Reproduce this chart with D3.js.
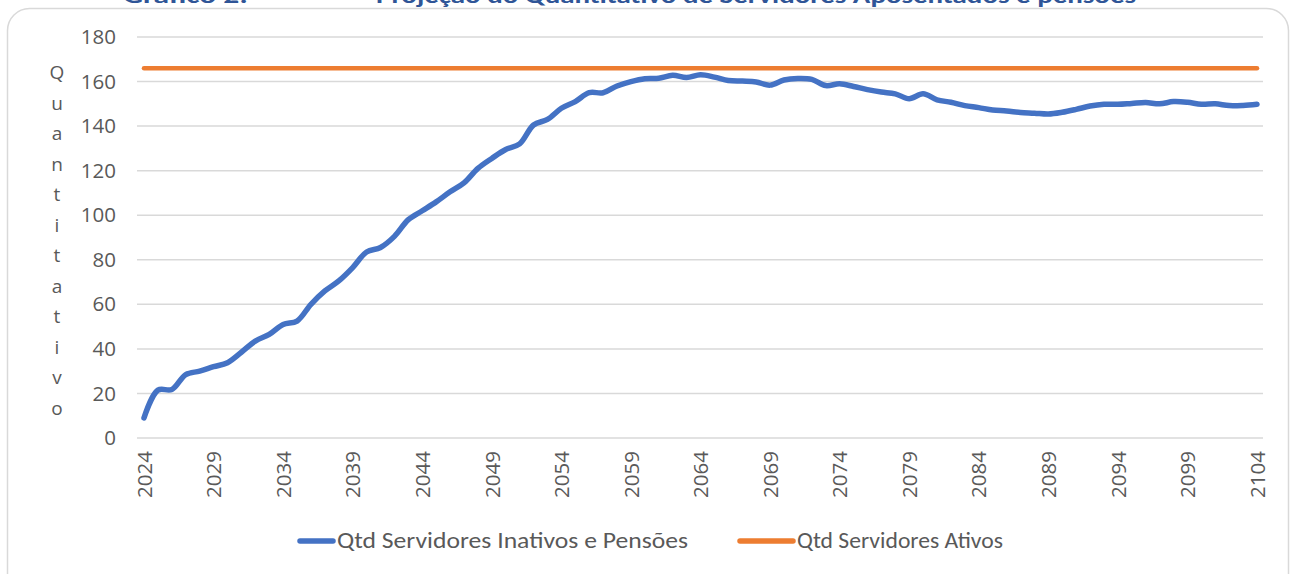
<!DOCTYPE html>
<html>
<head>
<meta charset="utf-8">
<script src="https://cdn.jsdelivr.net/npm/d3@7"></script>
<style>
  body { margin: 0; background: #fff; }
  svg { display: block; }
</style>
</head>
<body>
<div id="chart"></div>
<script>
// dados
var anos = d3.range(2024, 2105);
var inativos = [9, 21.5, 21.8, 28.5, 30, 32, 33.8, 38.5, 43.5, 46.5,
    51, 52.5, 60, 66, 70.5, 76.5, 83.5, 85.5, 90.5, 98,
    102, 106, 110.5, 114.5, 121, 125.5, 129.5, 132, 140.5, 143,
    148, 151, 155, 155, 158, 160, 161.3, 161.5, 162.8, 161.8,
    163, 162, 160.5, 160.2, 159.8, 158.4, 160.7, 161.4, 161, 158.2,
    159, 157.8, 156.4, 155.3, 154.5, 152.3, 154.5, 151.8, 150.7, 149.2,
    148.3, 147.2, 146.8, 146.1, 145.8, 145.4, 146.2, 147.5, 149, 149.8,
    149.8, 150.2, 150.6, 150, 151, 150.7, 149.8, 150, 149.2, 149.3,
    149.8];
var ativos = anos.map(function(){ return 166; });
var yTicks = [0, 20, 40, 60, 80, 100, 120, 140, 160, 180];
var xTicks = d3.range(2024, 2105, 5);
var series = [
    {name: "Qtd Servidores Inativos e Pensões", values: inativos, color: "#4472C4"},
    {name: "Qtd Servidores Ativos", values: ativos, color: "#ED7D31"}
];

var W = 1290, H = 574;
var fontTick = "'Open Sans', 'Noto Sans', sans-serif";
var fontLeg = "Carlito, Calibri, 'Open Sans', sans-serif";

var svg = d3.select("#chart").append("svg")
    .attr("width", W).attr("height", H);

// moldura
svg.append("rect")
    .attr("x", 7.5).attr("y", 8.5)
    .attr("width", 1281).attr("height", 590)
    .attr("rx", 22).attr("ry", 22)
    .attr("fill", "#fff")
    .attr("stroke", "#d9d9d9")
    .attr("stroke-width", 1.5);

// título (cortado no topo, como na imagem)
svg.append("text")
    .attr("x", 123).attr("y", 3)
    .attr("font-family", fontLeg)
    .attr("font-weight", "bold")
    .attr("font-size", "23px")
    .attr("fill", "#2F5597")
    .attr("textLength", 125)
    .attr("lengthAdjust", "spacingAndGlyphs")
    .text("Gráfico 2:");
svg.append("text")
    .attr("x", 376).attr("y", 3)
    .attr("font-family", fontLeg)
    .attr("font-weight", "bold")
    .attr("font-size", "23px")
    .attr("fill", "#2F5597")
    .attr("textLength", 760)
    .attr("lengthAdjust", "spacingAndGlyphs")
    .text("Projeção do Quantitativo de Servidores Aposentados e pensões");

var x = d3.scaleLinear().domain([2024, 2104]).range([144, 1257]);
var y = d3.scaleLinear().domain([0, 180]).range([438, 37]);

// grade
svg.append("g").selectAll("line")
    .data(yTicks)
    .enter()
    .append("line")
    .attr("x1", 137).attr("x2", 1263)
    .attr("y1", function(d){ return y(d); })
    .attr("y2", function(d){ return y(d); })
    .attr("stroke", "#d9d9d9")
    .attr("stroke-width", 1.5);

// eixo y
var yAxis = svg.append("g")
    .attr("transform", "translate(126,0)")
    .call(d3.axisLeft(y).tickValues(yTicks).tickSize(0).tickPadding(10));
yAxis.select(".domain").remove();
yAxis.selectAll("text")
    .attr("font-family", fontTick)
    .attr("font-size", "20.5px")
    .attr("fill", "#595959");

// eixo x
var xAxis = svg.append("g")
    .attr("transform", "translate(0,438)")
    .call(d3.axisBottom(x).tickValues(xTicks).tickSize(0).tickFormat(d3.format("d")));
xAxis.select(".domain").remove();
xAxis.selectAll("text")
    .attr("font-family", fontTick)
    .attr("font-size", "20.5px")
    .attr("fill", "#595959")
    .attr("transform", "rotate(-90)")
    .attr("text-anchor", "end")
    .attr("x", -13)
    .attr("y", 0)
    .attr("dy", "0.35em");

// título do eixo y, letra por letra
var letras = "Quantitativo".split("");
svg.append("g").selectAll("text")
    .data(letras)
    .enter()
    .append("text")
    .text(function(d){ return d; })
    .attr("x", 57)
    .attr("y", function(d, i){ return 79 + i * 30.5; })
    .attr("text-anchor", "middle")
    .attr("font-family", fontTick)
    .attr("font-size", "19px")
    .attr("fill", "#595959");

// linhas
var line = d3.line()
    .x(function(d, i){ return x(anos[i]); })
    .y(function(d){ return y(d); })
    .curve(d3.curveCatmullRom.alpha(0.5));

svg.append("g").selectAll("path")
    .data(series.slice().reverse())
    .enter()
    .append("path")
    .attr("d", function(d){ return line(d.values); })
    .attr("fill", "none")
    .attr("stroke", function(d){ return d.color; })
    .attr("stroke-width", function(d, i){ return i == 0 ? 4.5 : 5.5; })
    .attr("stroke-linecap", "round")
    .attr("stroke-linejoin", "round");

// legenda
var legPos = [{sx: 300, tx: 337, tl: 351}, {sx: 740, tx: 797, tl: 206}];
var leg = svg.append("g").selectAll("g")
    .data(series)
    .enter()
    .append("g");
leg.append("line")
    .attr("x1", function(d, i){ return legPos[i].sx; })
    .attr("x2", function(d, i){ return legPos[i].tx - 4; })
    .attr("y1", 541).attr("y2", 541)
    .attr("stroke", function(d){ return d.color; })
    .attr("stroke-width", 5.5)
    .attr("stroke-linecap", "round");
leg.append("text")
    .text(function(d){ return d.name; })
    .attr("x", function(d, i){ return legPos[i].tx; })
    .attr("y", 548)
    .attr("textLength", function(d, i){ return legPos[i].tl; })
    .attr("lengthAdjust", "spacingAndGlyphs")
    .attr("font-family", fontLeg)
    .attr("font-size", "22px")
    .attr("fill", "#595959");
</script>
</body>
</html>
